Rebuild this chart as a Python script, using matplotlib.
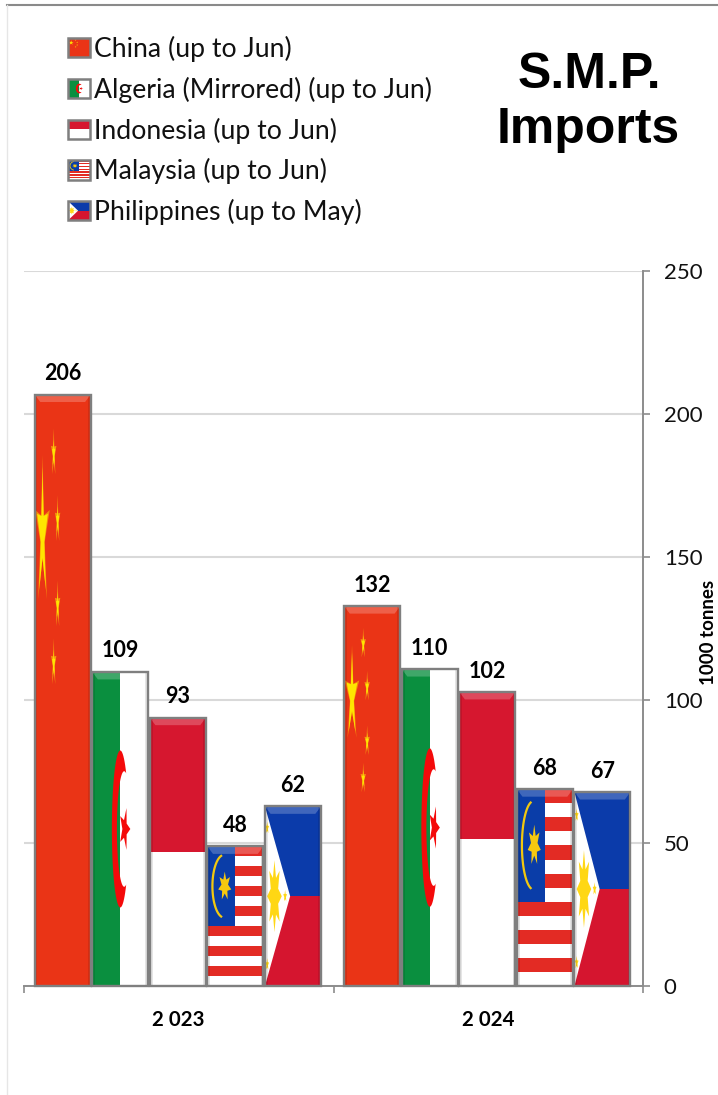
import numpy as np
import matplotlib
matplotlib.use("Agg")
import matplotlib.pyplot as plt
from matplotlib.patches import Polygon, Rectangle, Patch
from matplotlib.lines import Line2D
from matplotlib.legend_handler import HandlerBase
from matplotlib.transforms import Affine2D

years = ["2 023", "2 024"]
countries = ["China", "Algeria", "Indonesia", "Malaysia", "Philippines"]
china = [206, 132]
algeria = [109, 110]
indonesia = [93, 102]
malaysia = [48, 68]
philippines = [62, 67]
series = [china, algeria, indonesia, malaysia, philippines]
legend_labels = ["China (up to Jun)", "Algeria (Mirrored) (up to Jun)", "Indonesia (up to Jun)",
                 "Malaysia (up to Jun)", "Philippines (up to May)"]
yticks = [0, 50, 100, 150, 200, 250]

W, H = 718, 1095
plt.rcParams["font.family"] = ["Lato", "DejaVu Sans"]
fig = plt.figure(figsize=(W / 100, H / 100), dpi=100, facecolor="white")
L, R, T, B = 24, 643, 271, 986
ax = fig.add_axes([L / W, 1 - B / H, (R - L) / W, (B - T) / H])
ax.set_facecolor("none")
ax.set_xlim(-0.5, 1.5)
ax.set_ylim(0, 250)


def star(cx, cy, rx, ry, n=5, inner=0.38, rot=90):
    a = np.deg2rad(rot) + np.arange(2 * n) * np.pi / n
    r = np.where(np.arange(2 * n) % 2 == 0, 1.0, inner)
    return np.column_stack([cx + rx * r * np.cos(a), cy + ry * r * np.sin(a)])


def draw_flag(name, tr, z, add, arc_lw=1.6):
    def rect(x, y, w, h, c, **kw):
        add(Rectangle((x, y), w, h, fc=c, ec="none", transform=tr, zorder=z, **kw))

    def poly(pts, c, zz=0.0, **kw):
        add(Polygon(pts, closed=True, fc=c, ec="none", transform=tr, zorder=z + zz, **kw))

    if name == "China":
        rect(0, 0, 1, 1, "#EA3416")
        poly(star(.14, .763, .135, .135, inner=.30), "#F58A0C", .1)
        poly(star(.14, .763, .10, .115, inner=.34), "#FFE600", .2)
        for cx, cy in [(.34, .90), (.41, .787), (.41, .643), (.34, .545)]:
            poly(star(cx, cy, .05, .043, inner=.35), "#F59A10", .1)
            poly(star(cx, cy, .03, .024, inner=.45), "#FFE600", .2)
    elif name == "Algeria":
        rect(0, 0, .5, 1, "#0A8F3F")
        rect(.5, 0, .5, 1, "white")
        t1 = np.deg2rad(np.linspace(45, 315, 60))
        outer = np.column_stack([.50 + .15 * np.cos(t1), .5 + .25 * np.sin(t1)])
        t2 = np.deg2rad(np.linspace(286, 74, 60))
        inn = np.column_stack([.57 + .13 * np.cos(t2), .5 + .184 * np.sin(t2)])
        poly(np.vstack([outer, inn]), "#F40A0A", .1)
        poly(star(.58, .5, .10, .07, inner=.42, rot=0), "#F40A0A", .1)
    elif name == "Indonesia":
        rect(0, .5, 1, .5, "#D6172F")
        rect(0, 0, 1, .5, "white")
    elif name == "Malaysia":
        rect(0, 0, 1, 1, "white")
        for k in range(0, 14, 2):
            rect(0, 1 - (k + 1) / 14, 1, 1 / 14, "#E32B24")
        rect(0, 6 / 14, .5, 8 / 14, "#0A3DA8")
        t = np.deg2rad(np.linspace(105, 255, 40))
        arc = np.column_stack([.30 + .21 * np.cos(t), .715 + .225 * np.sin(t)])
        add(Line2D(arc[:, 0], arc[:, 1], color="#F2C80F", lw=arc_lw, transform=tr, zorder=z + .1))
        poly(star(.31, .715, .12, .105, n=7, inner=.5), "#F7C90F", .1)
    elif name == "Philippines":
        rect(0, .5, 1, .5, "#0B3BAA")
        rect(0, 0, 1, .5, "#D5152F")
        poly([(0, 1), (.45, .5), (0, 0)], "white", .05)
        poly(star(.17, .5, .13, .2, n=8, inner=.55), "#FFD714", .1)
        for cx, cy in [(.04, .88), (.04, .12), (.36, .5)]:
            poly(star(cx, cy, .035, .035, inner=.45), "#FFD714", .1)


spacing, width = 0.186, 0.181
group_shift = -0.003
TOP_PAD = 0.8
base = {"Indonesia": "white", "Algeria": "white", "Malaysia": "white", "China": "#EA3416", "Philippines": "white"}
for i, (name, vals) in enumerate(zip(countries, series)):
    xs = np.arange(len(years)) + (i - 2) * spacing + group_shift
    bars = ax.bar(xs, vals, width=width, color=base[name], linewidth=0, zorder=3)
    for b, v in zip(bars, vals):
        x0, w = b.get_x(), b.get_width()
        h = v + TOP_PAD
        tr = Affine2D().scale(w, h).translate(x0, 0) + ax.transData
        clip = Rectangle((0, 0), 1, 1, transform=tr)

        def add(a):
            ax.add_artist(a)
            a.set_clip_path(clip)

        draw_flag(name, tr, 3.1, add)
        bev = 2.6 / h
        side = .05
        ax.add_patch(Polygon([(0, 1), (1, 1), (1 - 2 * side, 1 - bev), (2 * side, 1 - bev)], fc="white", alpha=.22,
                             ec="none", transform=tr, zorder=3.6))
        for sx in (0, 1 - side):
            ax.add_patch(Rectangle((sx, 0), side, 1, fc="black", alpha=.10, ec="none", transform=tr, zorder=3.6))
        ax.add_patch(Rectangle((0, 0), 1, 1, fc="none", ec="#7F7F7F", lw=1.7, transform=tr, zorder=3.8,
                               clip_on=False))
        ax.annotate(str(v), (x0 + w / 2, v), xytext=(0, 9.2), textcoords="offset points", ha="center", va="bottom",
                    fontsize=15.5, fontweight="bold", color="black", zorder=5)

ax.set_axisbelow(True)
ax.yaxis.tick_right()
ax.set_yticks(yticks)
ax.set_xticks([-0.5, 0.5, 1.5])
ax.set_xticklabels([])
ax.set_xticks([0, 1], minor=True)
ax.set_xticklabels(years, minor=True, fontsize=14.7, fontweight="bold")
ax.tick_params(axis="x", which="minor", length=0, pad=17.3)
ax.tick_params(axis="x", which="major", length=5, width=1.2, color="#8C8C8C")
ax.tick_params(axis="y", length=5, width=1.2, color="#8C8C8C", labelsize=16, pad=10, labelcolor="#111111")
ax.grid(axis="y", color="#D9D9D9", lw=1.5, zorder=0)
for s in ("top", "left"):
    ax.spines[s].set_visible(False)
for s in ("right", "bottom"):
    ax.spines[s].set_color("#8C8C8C")
    ax.spines[s].set_linewidth(1.4)

fig.text(708 / W, 1 - 632 / H, "1000 tonnes", rotation=90, ha="center", va="center", fontsize=13.5, fontweight="bold")
fig.text(589 / W, 1 - 75 / H, "S.M.P.", family="Liberation Sans", fontweight="bold", fontsize=36, ha="center", va="center")
fig.text(588 / W, 1 - 130 / H, "Imports", family="Liberation Sans", fontweight="bold", fontsize=36, ha="center", va="center")


class FlagHandler(HandlerBase):
    def __init__(self, name):
        super().__init__()
        self.name = name

    def create_artists(self, legend, orig, xd, yd, width, height, fontsize, trans):
        tr = Affine2D().scale(width, height).translate(-xd, -yd) + trans
        arts = []
        draw_flag(self.name, tr, 3, arts.append, arc_lw=0.6)
        arts.append(Rectangle((0, 0), 1, 1, fc="none", ec="#7F7F7F", lw=1.8, transform=tr, zorder=4))
        return arts


handles = [Patch(label=l) for l in legend_labels]
fig.legend(handles=handles, loc="upper left", bbox_to_anchor=(68 / W, 1 - 36 / H), frameon=False, borderpad=0,
           borderaxespad=0, fontsize=19.2, labelspacing=.548, handlelength=.84, handleheight=.74, handletextpad=.15,
           labelcolor="#111111", handler_map={h: FlagHandler(c) for h, c in zip(handles, countries)})

# page frame lines
fig.add_artist(Line2D([7 / W, 1], [1 - 5 / H, 1 - 5 / H], color="#8A8A8A", lw=1.5))
fig.add_artist(Line2D([7 / W, 7 / W], [0, 1 - 5 / H], color="#E6E6E6", lw=1))

fig.savefig("out.png", dpi=100)
